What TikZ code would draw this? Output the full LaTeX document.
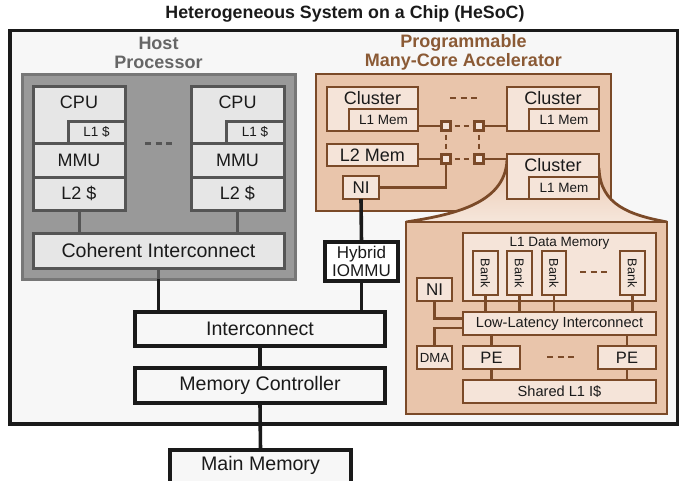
\documentclass[tikz,border=0pt]{standalone}
\usepackage{fontspec}
\setmainfont{Liberation Sans}
\definecolor{socbg}{HTML}{F7F7F7}
\definecolor{socline}{HTML}{1A1A1A}
\definecolor{hostfill}{HTML}{999999}
\definecolor{hostline}{HTML}{777777}
\definecolor{hostlabel}{HTML}{666666}
\definecolor{cpufill}{HTML}{E6E6E6}
\definecolor{cpuline}{HTML}{555555}
\definecolor{accfill}{HTML}{E9C5AB}
\definecolor{accline}{HTML}{7B4A28}
\definecolor{acclabel}{HTML}{8B5A35}
\definecolor{accin}{HTML}{F5E4D9}
\definecolor{funlight}{HTML}{F6E6DB}
\definecolor{txt}{HTML}{1A1A1A}
% box from corners: style, name, x1, y1, x2, y2, text
\newcommand{\mkbox}[7]{%
  \pgfmathsetmacro\mkbw{#5-#3}%
  \pgfmathsetmacro\mkbh{#6-#4}%
  \pgfmathsetmacro\mkbx{(#3+#5)/2}%
  \pgfmathsetmacro\mkby{(#4+#6)/2}%
  \node[#1,minimum width=\mkbw pt,minimum height=\mkbh pt] (#2) at (\mkbx,\mkby) {#7};}
\begin{document}
\begin{tikzpicture}[x=1pt,y=-1pt,
  every node/.style={inner sep=0pt,outer sep=0pt,text=txt},
  fL/.style={font=\fontsize{19.6}{21}\selectfont},
  fM/.style={font=\fontsize{18}{20}\selectfont},
  fN/.style={font=\fontsize{17}{17.3}\selectfont},
  fS/.style={font=\fontsize{13.5}{15}\selectfont},
  fI/.style={font=\fontsize{14.6}{16}\selectfont},
  hbox/.style={draw=cpuline,fill=cpufill,line width=3pt},
  abox/.style={draw=accline,fill=accin,line width=2.8pt},
  kbox/.style={draw=socline,fill=socbg,line width=3.6pt},
  hline/.style={draw=cpuline,line width=3pt},
  kline/.style={draw=socline,line width=3.6pt},
  aline/.style={draw=accline,line width=2.8pt},
  adash/.style={draw=accline,line width=2.8pt,dash pattern=on 5pt off 4pt,dash phase=5pt},
  dots/.style={line width=3pt,dash pattern=on 6pt off 4.5pt},
  router/.style={draw=accline,fill=accin,line width=2.6pt,minimum size=9pt}
]
\useasboundingbox (0,0) rectangle (686,480);
\node[font=\bfseries\fontsize{17.8}{20}\selectfont,text=socline] (title) at (345,14) {Heterogeneous System on a Chip (HeSoC)};
\mkbox{kbox}{soc}{10}{30.5}{677.5}{424}{}

% ---------------- Host processor
\node[font=\bfseries\fontsize{18}{19}\selectfont,text=hostlabel,align=center] (hostlbl) at (158.5,53) {Host\\Processor};
\mkbox{draw=hostline,fill=hostfill,line width=3pt}{host}{22}{74}{295}{279}{}

\mkbox{hbox}{cpu1}{33}{86}{125}{143}{}
\node[fM] (cpu1t) at (79,102) {CPU};
\mkbox{hbox,fS}{l1a}{68}{121}{125}{143}{L1 \$}
\mkbox{hbox,fM}{mmu1}{33}{143}{125}{177}{MMU}
\mkbox{hbox,fM}{l2a}{33}{177}{125}{210}{L2 \$}

\mkbox{hbox}{cpu2}{191}{86}{284}{143}{}
\node[fM] (cpu2t) at (237.5,102) {CPU};
\mkbox{hbox,fS}{l1b}{226}{121}{284}{143}{L1 \$}
\mkbox{hbox,fM}{mmu2}{191}{143}{284}{177}{MMU}
\mkbox{hbox,fM}{l2b}{191}{177}{284}{210}{L2 \$}

\draw[cpuline,dots] (145,143) -- (172,143);

\mkbox{hbox,fL}{coh}{33}{233}{284}{268}{Coherent Interconnect}
\draw[hline] (l2a.south) -- (l2a.south |- coh.north);
\draw[hline] (l2b.south) -- (l2b.south |- coh.north);

% ---------------- memory path
\mkbox{kbox,fL}{ic}{135}{312}{385}{346}{Interconnect}
\mkbox{kbox,fL}{mc}{135}{368}{385}{403}{Memory Controller}
\mkbox{kbox}{mm}{170}{450}{351}{484}{}
\node[fL] (mmt) at (260.5,465) {Main Memory};
\mkbox{kbox,fill=white,fN,align=center}{hyb}{325}{242}{398}{281}{Hybrid\\IOMMU}

\draw[hline] (coh.south) -- (coh.south |- host.south);
\draw[kline] (coh.south |- host.south) -- (coh.south |- ic.north);
\draw[kline] (ic.south) -- (mc.north);
\draw[kline] (mc.south) -- (mm.north);
\draw[kline] (hyb.south) -- (hyb.south |- ic.north);

% ---------------- Accelerator
\node[font=\bfseries\fontsize{18}{19.5}\selectfont,text=acclabel,align=center] (acclbl) at (463.5,52.5) {Programmable\\Many-Core Accelerator};
\mkbox{draw=accline,fill=accfill,line width=2.8pt}{acc}{316}{74}{611}{211}{}

% funnel towards the zoomed cluster
\fill[top color=accfill,bottom color=funlight] (507,154) -- (507,160) .. controls (505,205) and (450,215) .. (406,222) -- (667,222) .. controls (630,215) and (600,205) .. (599,168) -- (599,154) -- cycle;
\draw[aline] (507,160) .. controls (505,205) and (450,215) .. (406,222);
\draw[aline] (599,168) .. controls (600,205) and (630,215) .. (667,222);

\mkbox{abox}{cl1}{327}{87}{418}{131}{}
\node[fM] (cl1t) at (372.5,98) {Cluster};
\mkbox{abox,fS}{m1}{349}{109}{418}{131}{L1 Mem}

\mkbox{abox}{cl2}{507}{87}{599}{131}{}
\node[fM] (cl2t) at (553,98) {Cluster};
\mkbox{abox,fS}{m2}{529}{109}{599}{131}{L1 Mem}

\draw[accline,dots,line width=2.8pt] (450,98) -- (477,98);

\mkbox{abox,fM}{l2m}{327}{144}{418}{166}{L2 Mem}
\mkbox{abox,fN}{ni}{343}{176}{379}{199}{NI}

\mkbox{abox}{cl3}{507}{154}{599}{199}{}
\node[fM] (cl3t) at (553,165) {Cluster};
\mkbox{abox,fS}{m3}{529}{177}{599}{199}{L1 Mem}

\node[router] (r1) at (446,126) {};
\node[router] (r2) at (479,126) {};
\node[router] (r3) at (446,159) {};
\node[router] (r4) at (479,159) {};

\draw[aline] (r1.west) -- (r1.west -| m1.east);
\draw[aline] (r2.east) -- (r2.east -| cl2.west);
\draw[aline] (r3.west) -- (r3.west -| l2m.east);
\draw[aline] (r4.east) -- (r4.east -| cl3.west);
\draw[aline] (ni.east) -| (r3.south);
\draw[adash] (r1.east) -- (r2.west);
\draw[adash] (r3.east) -- (r4.west);
\draw[adash] (r1.south) -- (r3.north);
\draw[adash] (r2.south) -- (r4.north);

\draw[kline] (ni.south) -- (hyb.north);

% ---------------- zoomed cluster
\mkbox{draw=accline,fill=accfill,line width=2.8pt}{zc}{406}{222}{667}{414}{}
\mkbox{abox}{l1dm}{463}{233}{656}{301}{}
\node[fS] (l1dmt) at (559.5,243) {L1 Data Memory};
\mkbox{abox}{b1}{473}{251}{498}{295}{}
\mkbox{abox}{b2}{507}{251}{532}{295}{}
\mkbox{abox}{b3}{542}{251}{566}{295}{}
\mkbox{abox}{b4}{620}{251}{645}{295}{}
\foreach \b in {b1,b2,b3,b4}{
  \node[rotate=-90,font=\fontsize{12.7}{14}\selectfont] at (\b) {Bank};
}
\draw[accline,dots,line width=2.8pt] (580,272) -- (607,272);

\mkbox{abox,fN}{ni2}{417}{278}{452}{301}{NI}
\mkbox{abox,fI}{lli}{463}{312}{656}{335}{Low-Latency Interconnect}
\mkbox{abox,font=\fontsize{13.2}{14}\selectfont}{dma}{417}{346}{452}{369}{DMA}
\mkbox{abox,font=\fontsize{16.5}{18}\selectfont}{pe1}{463}{346}{520}{369}{PE}
\mkbox{abox,font=\fontsize{16.5}{18}\selectfont}{pe2}{598}{346}{656}{369}{PE}
\draw[accline,dots,line width=2.8pt] (547,357) -- (574,357);
\mkbox{abox,fI}{shd}{463}{380}{656}{403}{Shared L1 I\$}

\foreach \b in {b1,b2,b3,b4}{
  \draw[aline] (\b.south) -- (\b.south |- lli.north);
}
\draw[aline] (ni2.south) |- ([yshift=5pt]lli.west);
\draw[aline] (dma.north) |- ([yshift=-4.5pt]lli.west);
\draw[aline] (pe1.north) -- (pe1.north |- lli.south);
\draw[aline] (pe2.north) -- (pe2.north |- lli.south);
\draw[aline] (pe1.south) -- (pe1.south |- shd.north);
\draw[aline] (pe2.south) -- (pe2.south |- shd.north);
\end{tikzpicture}
\end{document}
